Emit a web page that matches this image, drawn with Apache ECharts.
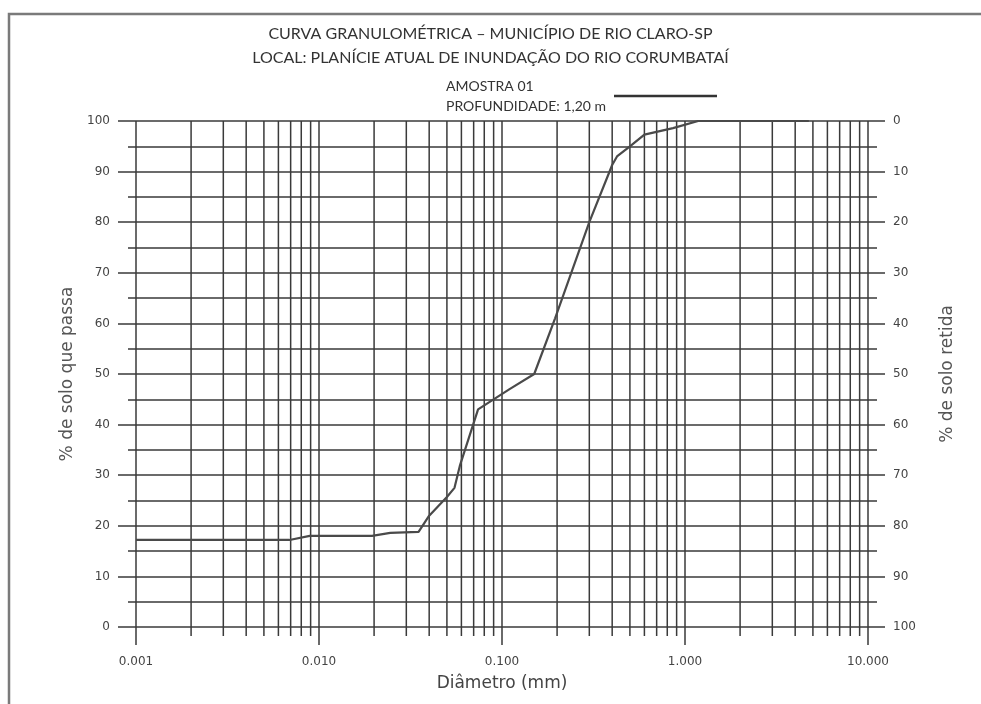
<!DOCTYPE html>
<html>
<head>
<meta charset="UTF-8">
<title>Curva granulométrica</title>
<script src="https://cdn.jsdelivr.net/npm/echarts@6/dist/echarts.min.js"></script>
<style>
  html, body { margin: 0; padding: 0; background: #fff; }
  #main { width: 981px; height: 704px; }
</style>
</head>
<body>
<div id="main"></div>
<script>
// diametro dos grãos (mm) e % de solo que passa
var diametros = [0.001, 0.0069, 0.0089, 0.0195, 0.0245, 0.035, 0.04, 0.05, 0.055, 0.059, 0.074, 0.11, 0.15, 0.195, 0.3, 0.4, 0.425, 0.5, 0.6, 0.86, 1.18, 4.75];
var passantes = [17.2, 17.2, 18.0, 18.0, 18.6, 18.8, 22.0, 25.7, 27.5, 32.0, 43.0, 47.0, 50.0, 61.0, 80.0, 91.3, 93.0, 95.0, 97.3, 98.6, 100, 100];

// linhas secundárias do papel log (2..9 de cada década)
var linhasMenores = [];
[0.001, 0.01, 0.1, 1].forEach(function (dec) {
  for (var k = 2; k <= 9; k++) linhasMenores.push(+(dec * k).toFixed(4));
});

var titulo1 = 'CURVA GRANULOMÉTRICA – MUNICÍPIO DE RIO CLARO-SP';
var titulo2 = 'LOCAL: PLANÍCIE ATUAL DE INUNDAÇÃO DO RIO CORUMBATAÍ';
var amostra = 'AMOSTRA 01\nPROFUNDIDADE: 1,20 m';

var corGrade = '#3a3a3a';
var fonteTitulo = 'Lato';
var fonteEixo = 'DejaVu Sans';
var myChart = echarts.init(document.getElementById('main'));

var pontos = diametros.map(function (d, i) { return [d, passantes[i]]; });

var option = {
  animation: false,
  backgroundColor: '#fff',
  title: {
    text: titulo1 + '\n' + titulo2,
    left: 'center',
    top: 17,
    textStyle: {
      fontFamily: fonteTitulo,
      fontWeight: 'normal',
      fontSize: 16,
      color: '#333',
      lineHeight: 24
    }
  },
  legend: {
    left: 441,
    top: 71,
    align: 'right',
    icon: 'rect',
    itemWidth: 103,
    itemHeight: 2.5,
    itemGap: 0,
    formatter: function (n) {
      return n.split('\n').map(function (s) { return '{a|' + s + '}'; }).join('\n');
    },
    textStyle: {
      fontFamily: fonteTitulo,
      fontSize: 14,
      color: '#333',
      lineHeight: 20,
      rich: {
        a: { width: 163, align: 'left', fontFamily: fonteTitulo, fontSize: 14, color: '#333', lineHeight: 20 }
      }
    },
    data: [{ name: amostra, itemStyle: { color: '#333' } }]
  },
  graphic: [{
    type: 'rect',
    shape: { x: 9, y: 14, width: 1100, height: 800 },
    style: { fill: 'none', stroke: '#7a7a7a', lineWidth: 2.5 },
    silent: true
  }],
  grid: { left: 136, right: 113, top: 121, bottom: 77 },
  xAxis: {
    type: 'log',
    logBase: 10,
    min: 0.001,
    max: 10,
    name: 'Diâmetro (mm)',
    nameLocation: 'middle',
    nameGap: 48,
    nameTextStyle: { fontFamily: fonteEixo, fontSize: 17, color: '#444' },
    axisLine: { show: false },
    axisTick: { show: true, length: 18, lineStyle: { color: corGrade, width: 1.5 } },
    axisLabel: {
      margin: 29,
      fontFamily: fonteEixo,
      fontSize: 12,
      color: '#444',
      formatter: function (v) { return v.toFixed(3); }
    },
    splitLine: { show: true, lineStyle: { color: corGrade, width: 1.5 } }
  },
  yAxis: [{
    type: 'value',
    min: 0,
    max: 100,
    interval: 10,
    name: '% de solo que passa',
    nameLocation: 'middle',
    nameGap: 60,
    nameTextStyle: { fontFamily: fonteEixo, fontSize: 17, color: '#555' },
    axisLine: { show: false },
    axisTick: { show: true, length: 18, lineStyle: { color: corGrade, width: 1.5 } },
    minorTick: { show: true, splitNumber: 2, length: 8, lineStyle: { color: corGrade, width: 1.5 } },
    axisLabel: { margin: 26, fontFamily: fonteEixo, fontSize: 12, color: '#444' },
    splitLine: { show: true, lineStyle: { color: corGrade, width: 1.5 } },
    minorSplitLine: { show: true, lineStyle: { color: corGrade, width: 1.5 } }
  }, {
    type: 'value',
    min: 0,
    max: 100,
    interval: 10,
    inverse: true,
    position: 'right',
    name: '% de solo retida',
    nameLocation: 'middle',
    nameGap: 71,
    nameTextStyle: { fontFamily: fonteEixo, fontSize: 17, color: '#555' },
    axisLine: { show: false },
    axisTick: { show: true, length: 17, lineStyle: { color: corGrade, width: 1.5 } },
    minorTick: { show: true, splitNumber: 2, length: 9, lineStyle: { color: corGrade, width: 1.5 } },
    axisLabel: { margin: 25, fontFamily: fonteEixo, fontSize: 12, color: '#444' },
    splitLine: { show: false }
  }],
  series: [{
    type: 'custom',
    silent: true,
    clip: false,
    z: 1,
    data: linhasMenores,
    encode: { x: 0 },
    renderItem: function (params, api) {
      var x = api.value(0);
      var p0 = api.coord([x, 100]);
      var p1 = api.coord([x, 0]);
      return {
        type: 'line',
        shape: { x1: p0[0], y1: p0[1], x2: p1[0], y2: p1[1] + 9 },
        style: { stroke: corGrade, lineWidth: 1.5 }
      };
    }
  }, {
    name: amostra,
    type: 'line',
    z: 3,
    data: pontos,
    symbol: 'none',
    lineStyle: { color: '#4a4a4a', width: 2.2 },
    itemStyle: { color: '#333' }
  }]
};

myChart.setOption(option);
</script>
</body>
</html>
